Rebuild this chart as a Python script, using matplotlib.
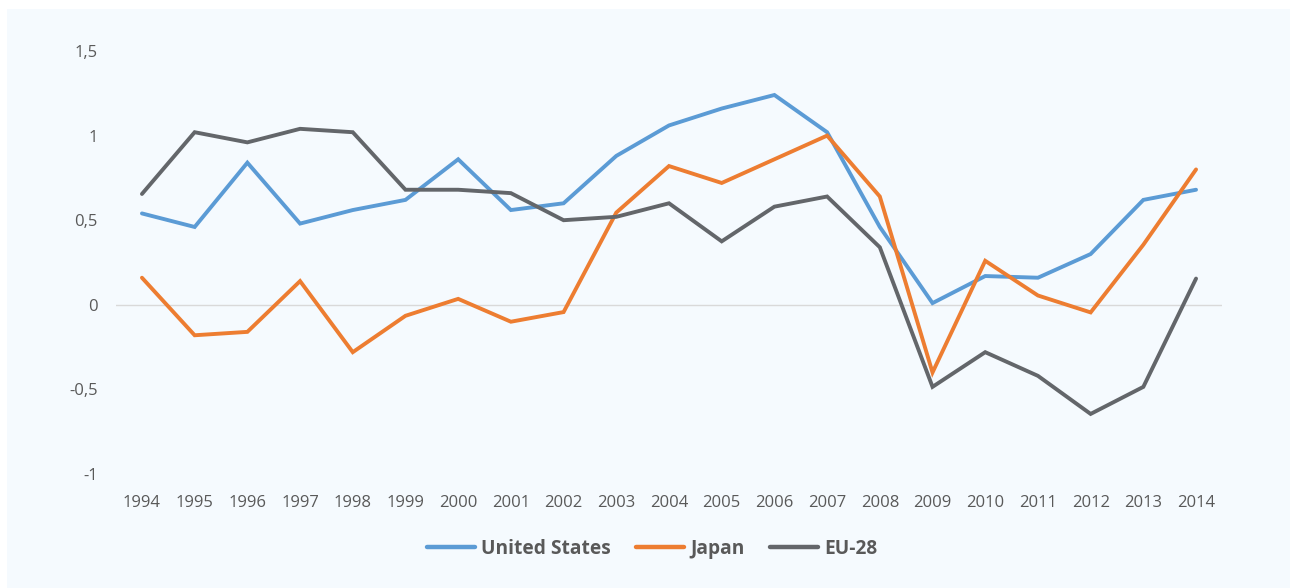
import matplotlib
matplotlib.use("Agg")
import matplotlib.pyplot as plt
from matplotlib.patches import Rectangle

years = list(range(1994, 2015))
us = [0.54, 0.46, 0.84, 0.48, 0.56, 0.62, 0.86, 0.56, 0.60, 0.88, 1.06,
      1.16, 1.24, 1.02, 0.46, 0.01, 0.17, 0.16, 0.30, 0.62, 0.68]
japan = [0.16, -0.18, -0.16, 0.14, -0.28, -0.065, 0.035, -0.10, -0.043, 0.545, 0.82,
         0.72, 0.86, 1.00, 0.64, -0.40, 0.26, 0.055, -0.045, 0.355, 0.80]
eu28 = [0.655, 1.02, 0.96, 1.04, 1.02, 0.68, 0.68, 0.66, 0.50, 0.52, 0.60,
        0.375, 0.58, 0.64, 0.34, -0.485, -0.28, -0.42, -0.645, -0.485, 0.155]
series_names = ["United States", "Japan", "EU-28"]
yticks = [-1, -0.5, 0, 0.5, 1, 1.5]
ytick_labels = ["-1", "-0,5", "0", "0,5", "1", "1,5"]

colors = ["#5B9BD5", "#ED7D31", "#63666A"]
text_color = "#595959"
panel_color = "#F5FAFE"

plt.rcParams['font.family'] = ['Open Sans', 'DejaVu Sans']

fig = plt.figure(figsize=(12.9, 5.88), dpi=100, facecolor="white")
fig.patches.append(Rectangle((7 / 1290, 0 / 588), 1 - 7 / 1290, 1 - 9 / 588,
                             transform=fig.transFigure, facecolor=panel_color,
                             edgecolor="none", zorder=-10))

left, right = 115.6 / 1290, 1222.4 / 1290
bottom, top = 1 - 474 / 588, 1 - 51 / 588
ax = fig.add_axes([left, bottom, right - left, top - bottom])
ax.set_facecolor("none")

for vals, name, c in zip([us, japan, eu28], series_names, colors):
    ax.plot(years, vals, color=c, lw=2.8, label=name, solid_joinstyle="miter",
            solid_capstyle="round")

ax.axhline(0, color="#D9D9D9", lw=1.0, zorder=0)
ax.set_xlim(1993.5, 2014.5)
ax.set_ylim(-1, 1.5)
ax.set_xticks(years)
ax.set_xticklabels([str(y) for y in years])
ax.set_yticks(yticks)
ax.set_yticklabels(ytick_labels)
ax.tick_params(axis="both", length=0, labelsize=12, colors=text_color)
ax.tick_params(axis="x", pad=15)
ax.tick_params(axis="y", pad=13)
for s in ax.spines.values():
    s.set_visible(False)

leg = fig.legend(loc="center", bbox_to_anchor=(652 / 1290, 1 - 549 / 588),
                 ncol=3, frameon=False, handlelength=2.5, handletextpad=0.3,
                 columnspacing=1.35, prop={"size": 13.8, "weight": "bold"})
for t in leg.get_texts():
    t.set_color(text_color)
for h in leg.legend_handles:
    h.set_linewidth(3.2)

fig.savefig("out.png", dpi=100, facecolor="white")
